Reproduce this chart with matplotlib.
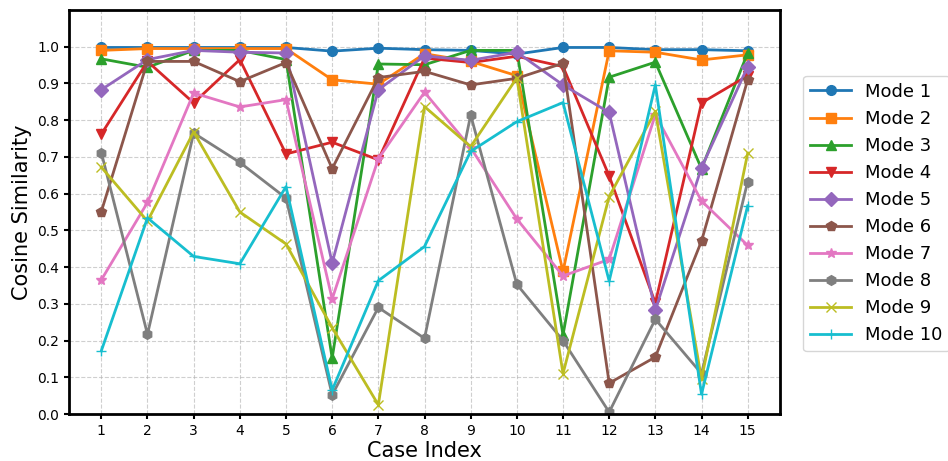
import numpy as np
import matplotlib
matplotlib.use('Agg')
import matplotlib.pyplot as plt

cases = list(range(1, 16))

mode_1 = [0.998, 0.998, 0.998, 0.998, 0.998, 0.988, 0.996, 0.992, 0.990, 0.980, 0.998, 0.998, 0.992, 0.992, 0.989]
mode_2 = [0.990, 0.995, 0.995, 0.995, 0.995, 0.910, 0.898, 0.981, 0.960, 0.921, 0.388, 0.989, 0.985, 0.964, 0.978]
mode_3 = [0.967, 0.944, 0.990, 0.990, 0.965, 0.152, 0.953, 0.951, 0.990, 0.990, 0.215, 0.917, 0.958, 0.668, 0.983]
mode_4 = [0.762, 0.960, 0.847, 0.965, 0.708, 0.740, 0.692, 0.969, 0.957, 0.974, 0.946, 0.648, 0.302, 0.847, 0.921]
mode_5 = [0.883, 0.965, 0.990, 0.985, 0.983, 0.411, 0.883, 0.975, 0.963, 0.985, 0.896, 0.821, 0.283, 0.671, 0.946]
mode_6 = [0.551, 0.960, 0.960, 0.905, 0.957, 0.668, 0.916, 0.933, 0.896, 0.914, 0.955, 0.084, 0.155, 0.471, 0.910]
mode_7 = [0.365, 0.576, 0.874, 0.836, 0.856, 0.313, 0.695, 0.876, 0.725, 0.531, 0.376, 0.421, 0.815, 0.580, 0.459]
mode_8 = [0.712, 0.217, 0.765, 0.685, 0.588, 0.052, 0.290, 0.206, 0.814, 0.353, 0.200, 0.005, 0.258, 0.110, 0.633]
mode_9 = [0.672, 0.525, 0.768, 0.550, 0.463, 0.235, 0.025, 0.837, 0.728, 0.915, 0.110, 0.592, 0.824, 0.095, 0.710]
mode_10 = [0.172, 0.534, 0.429, 0.409, 0.619, 0.065, 0.363, 0.456, 0.715, 0.796, 0.848, 0.362, 0.896, 0.054, 0.567]

modes = [mode_1, mode_2, mode_3, mode_4, mode_5, mode_6, mode_7, mode_8, mode_9, mode_10]
labels = [f'Mode {i}' for i in range(1, 11)]
markers = ['o', 's', '^', 'v', 'D', 'p', '*', 'h', 'x', '+']

fig, ax = plt.subplots(figsize=(9.48, 4.61), dpi=100)

for vals, lab, mk in zip(modes, labels, markers):
    ax.plot(cases, vals, marker=mk, linewidth=2, markersize=7, label=lab)

ax.set_xlim(0.3, 15.7)
ax.set_ylim(0, 1.1)
ax.set_xticks(cases)
ax.set_yticks(np.arange(0, 1.01, 0.1))
ax.set_xlabel('Case Index', fontsize=15, labelpad=2)
ax.set_ylabel('Cosine Similarity', fontsize=15)
ax.tick_params(labelsize=10, width=1.5)
ax.grid(True, linestyle='--', alpha=0.6)
for s in ax.spines.values():
    s.set_linewidth(2)

# legend sits just outside the axes, runs off the right edge like the original
ax.legend(loc='center left', bbox_to_anchor=(803 / 948, 0.537),
          bbox_transform=fig.transFigure, borderaxespad=0,
          fontsize=13, handlelength=2.25)

fig.subplots_adjust(left=69 / 948, right=780 / 948, top=1 - 10 / 461, bottom=1 - 414 / 461)
fig.savefig('out.png', dpi=100)
